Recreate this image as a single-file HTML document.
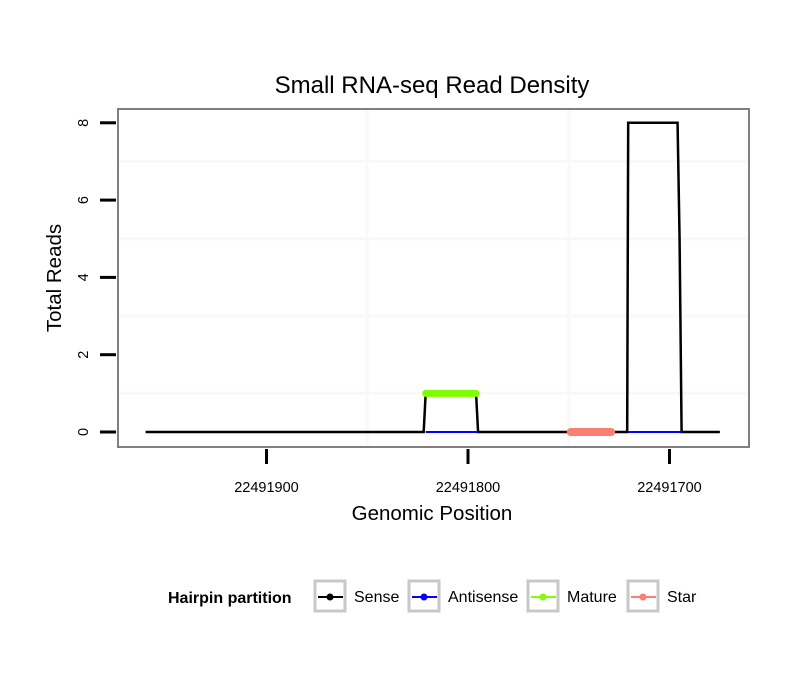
<!DOCTYPE html>
<html><head><meta charset="utf-8"><style>
body{margin:0;background:#fff;}
svg text{font-family:"Liberation Sans",sans-serif;}
</style></head><body>
<svg id="chart" width="810" height="690" xmlns="http://www.w3.org/2000/svg">
<rect width="810" height="690" fill="#fff"/>
<text x="432" y="93" font-size="24" text-anchor="middle">Small RNA-seq Read Density</text>
<g id="grid"></g>
<g id="marks"></g>
<rect x="118" y="109" width="631" height="338" fill="none" stroke="#7f7f7f" stroke-width="2"/>
<g id="axes"></g>
<text x="432" y="520" font-size="20.5" text-anchor="middle">Genomic Position</text>
<text transform="translate(61,278) rotate(-90)" font-size="20.5" text-anchor="middle">Total Reads</text>
<g id="legend">
<text x="168" y="603" font-size="16" font-weight="bold">Hairpin partition</text>
</g>
</svg>
<script>
const xTicks=[22491900,22491800,22491700];
const yTicks=[0,2,4,6,8];
const senseX=[22491960,22491822,22491821,22491796,22491795,22491721,22491720.5,22491696,22491695,22491694,22491675];
const senseY=[0,0,1,1,0,0,8,8,5,0,0];
const antisenseSegs=[[22491821,22491795],[22491721,22491694]];
const matureSeg=[22491821,22491796];
const matureVal=1;
const starSeg=[22491749,22491729];
const starVal=0;
const legendLabels=["Sense","Antisense","Mature","Star"];
const legendColors=["#000","#0000ff","#7fff00","#fa8072"];

const NS="http://www.w3.org/2000/svg";
const X=p=>468+(22491800-p)*2.015;
const Y=v=>432-v*38.65;
function mk(tag,attrs,parent){const e=document.createElementNS(NS,tag);for(const k in attrs)e.setAttribute(k,attrs[k]);parent.appendChild(e);return e;}
const grid=document.getElementById('grid'),marks=document.getElementById('marks'),axes=document.getElementById('axes'),legend=document.getElementById('legend');
[1,3,5,7].forEach(v=>{const l=mk('line',{x1:118,x2:749,y1:Y(v),y2:Y(v),stroke:'#f9f9f9','stroke-width':3},grid);

});
[22491850,22491750].forEach(p=>{const l=mk('line',{x1:X(p),x2:X(p),y1:109,y2:447,stroke:'#f9f9f9','stroke-width':3},grid);

});
const sp=mk('polyline',{points:senseX.map((p,i)=>X(p)+','+Y(senseY[i])).join(' '),fill:'none',stroke:'#000','stroke-width':2.5},marks);


antisenseSegs.forEach(s=>{const l=mk('line',{x1:X(s[0]),x2:X(s[1]),y1:Y(0),y2:Y(0),stroke:'#0000ff','stroke-width':2},marks);

});
const ml=mk('line',{x1:X(matureSeg[0]),x2:X(matureSeg[1]),y1:Y(matureVal),y2:Y(matureVal),stroke:'#7fff00','stroke-width':7,'stroke-linecap':'round'},marks);


const sl=mk('line',{x1:X(starSeg[0]),x2:X(starSeg[1]),y1:Y(starVal),y2:Y(starVal),stroke:'#fa8072','stroke-width':8,'stroke-linecap':'round'},marks);


xTicks.forEach(p=>{const t=mk('line',{x1:X(p),x2:X(p),y1:449,y2:464,stroke:'#000','stroke-width':3},axes);


const tx=mk('text',{x:X(p),y:492,'font-size':14.5,'text-anchor':'middle'},axes);tx.textContent=p;

});
yTicks.forEach(v=>{const t=mk('line',{x1:100,x2:116,y1:Y(v),y2:Y(v),stroke:'#000','stroke-width':3},axes);


const tx=mk('text',{transform:`translate(88,${Y(v)}) rotate(-90)`,'font-size':14.5,'text-anchor':'middle'},axes);tx.textContent=v;

});
const lx=[314,408,527,627];
legendLabels.forEach((lab,i)=>{const x=lx[i];
const b=mk('rect',{x:x+1,y:581,width:30,height:30,fill:'#fff',stroke:'#c8c8c8','stroke-width':3},legend);


mk('line',{x1:x+4,x2:x+29,y1:597,y2:597,stroke:legendColors[i],'stroke-width':2},legend);
mk('circle',{cx:x+16,cy:597,r:3.5,fill:legendColors[i]},legend);
const t=mk('text',{x:x+40,y:602,'font-size':16},legend);t.textContent=lab;

});
</script>
</body></html>
